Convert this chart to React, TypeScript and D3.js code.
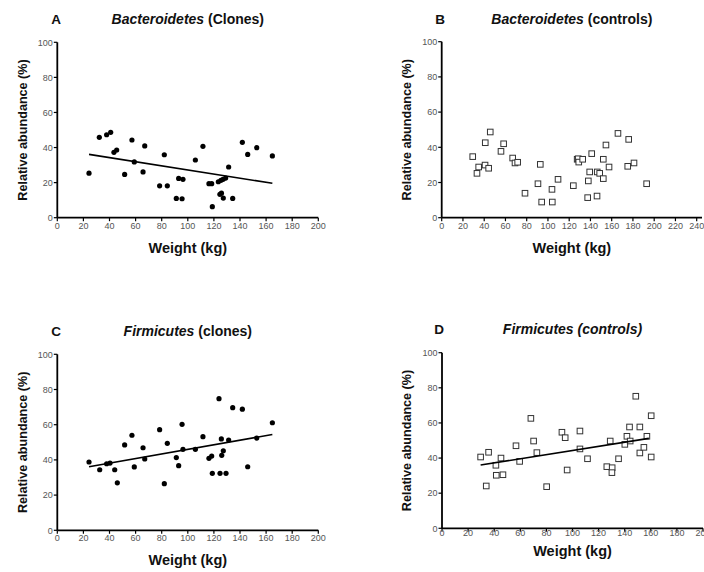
import React from "react";
import * as d3 from "d3";

// ---- Data ----
const aWeight = [24.3, 32.2, 37.8, 40.9, 43.4, 45.5, 51.6, 57.2, 59.0, 65.7, 67.0, 78.4, 82.0, 84.3, 91.2, 93.0, 95.6, 96.3, 105.8, 111.6, 116.2, 118.3, 118.8, 123.4, 125.4, 127.0, 129.0, 124.6, 125.8, 127.2, 131.3, 134.4, 141.8, 145.9, 152.8, 164.8];
const aBacteroidetes = [25.4, 45.8, 47.3, 48.7, 37.3, 38.6, 24.7, 44.3, 31.8, 26.1, 40.9, 18.2, 35.9, 18.2, 11.0, 22.4, 10.8, 21.9, 32.9, 40.7, 19.4, 19.4, 6.3, 20.5, 21.3, 21.9, 22.6, 13.3, 14.0, 11.2, 28.9, 11.0, 43.0, 36.1, 39.9, 35.2];
const aFit = [[24.3, 36.1], [164.8, 19.6]];

const bWeight = [29.2, 33.2, 34.8, 40.8, 41.0, 44.2, 45.7, 55.8, 58.3, 66.8, 69.0, 71.5, 78.4, 90.6, 92.8, 94.1, 103.8, 104.1, 109.5, 123.9, 127.5, 128.5, 129.0, 132.7, 137.4, 138.0, 139.3, 141.2, 146.2, 146.4, 148.7, 152.1, 152.1, 154.6, 157.5, 165.9, 175.1, 176.0, 181.0, 192.9];
const bBacteroidetes = [34.7, 25.2, 28.8, 29.9, 42.6, 28.1, 48.7, 37.7, 42.0, 33.9, 31.1, 31.5, 13.9, 19.3, 30.3, 8.9, 16.1, 8.9, 21.8, 18.2, 33.2, 33.5, 31.6, 33.2, 11.4, 20.9, 26.0, 36.4, 12.3, 26.0, 25.2, 33.2, 22.2, 41.3, 28.8, 47.9, 29.2, 44.5, 31.1, 19.3];

const cWeight = [24.3, 32.5, 37.8, 40.4, 44.0, 46.0, 51.6, 57.2, 59.0, 65.7, 67.0, 78.4, 82.0, 84.3, 91.2, 93.0, 95.6, 96.3, 105.8, 111.6, 116.2, 118.3, 118.8, 123.9, 124.7, 125.7, 126.0, 127.2, 129.3, 131.3, 134.4, 141.8, 145.9, 152.8, 164.8];
const cFirmicutes = [38.8, 34.4, 37.8, 38.2, 34.4, 27.0, 48.5, 54.0, 36.0, 46.9, 40.5, 57.2, 26.5, 49.4, 41.3, 36.7, 60.2, 46.0, 46.0, 53.2, 40.9, 42.2, 32.4, 74.8, 32.4, 51.9, 42.6, 45.2, 32.4, 51.3, 69.7, 68.8, 36.1, 52.4, 61.1];
const cFit = [[24.3, 36.1], [164.8, 54.4]];

const dWeight = [29.6, 33.9, 35.7, 41.3, 41.6, 45.2, 46.7, 56.7, 59.5, 68.1, 70.2, 72.7, 80.2, 91.9, 94.4, 95.9, 105.7, 105.7, 111.5, 126.3, 128.9, 130.4, 130.2, 135.3, 140.1, 141.7, 143.7, 144.2, 148.5, 151.6, 151.6, 154.7, 157.0, 160.3, 160.3];
const dFirmicutes = [40.6, 24.1, 43.3, 35.9, 30.2, 40.0, 30.5, 47.0, 38.1, 62.6, 49.7, 43.1, 23.7, 54.7, 51.6, 33.2, 55.4, 45.2, 39.6, 35.1, 49.7, 34.5, 31.7, 39.6, 47.8, 52.4, 57.7, 49.7, 75.2, 57.7, 42.9, 46.1, 52.4, 64.1, 40.6];
const dFit = [[29.6, 36.0], [158.5, 51.2]];

const yTicks = [0, 20, 40, 60, 80, 100];
const xTicks200 = [0, 20, 40, 60, 80, 100, 120, 140, 160, 180, 200];
const xTicks240 = [0, 20, 40, 60, 80, 100, 120, 140, 160, 180, 200, 220, 240];

const FONT = "'Liberation Sans', Arial, Helvetica, sans-serif";

type PanelProps = {
  letter: string;
  italic: string;
  rest: string;
  allItalic?: boolean;
  left: number; right: number; top: number; bottom: number;
  xMax: number;
  xTicks: number[];
  xs: number[]; ys: number[];
  fit?: number[][];
  square?: boolean;
  yTitleX: number;
  xLabelDy: number;
  xTitleDy: number;
  letterX: number;
  titleY: number;
};

function Panel(p: PanelProps) {
  const x = d3.scaleLinear().domain([0, p.xMax]).range([p.left, p.right]);
  const y = d3.scaleLinear().domain([0, 100]).range([p.bottom, p.top]);
  const cx = (p.left + p.right) / 2;
  const cy = (p.top + p.bottom) / 2;
  const line = d3.line<number[]>().x(d => x(d[0])).y(d => y(d[1]));
  return (
    <g fontFamily={FONT}>
      <text x={p.letterX} y={p.titleY} fontSize={13.5} fontWeight="bold" textAnchor="middle" fill="#111">{p.letter}</text>
      <text x={cx} y={p.titleY} fontSize={14} fontWeight="bold" textAnchor="middle" fill="#111" fontStyle={p.allItalic ? "italic" : "normal"}>
        <tspan fontStyle="italic">{p.italic}</tspan>{p.rest}
      </text>
      {/* axes */}
      <line x1={p.left} x2={p.left} y1={p.top} y2={p.bottom} stroke="#000" strokeWidth={1.8} />
      <line x1={p.left} x2={p.right} y1={p.bottom} y2={p.bottom} stroke="#000" strokeWidth={1.8} />
      {yTicks.map(t => (
        <g key={"y" + t}>
          <line x1={p.left - 3.5} x2={p.left} y1={y(t)} y2={y(t)} stroke="#000" strokeWidth={1.2} />
          <text x={p.left - 4.5} y={y(t) + 3.2} fontSize={9} textAnchor="end" fill="#555">{t}</text>
        </g>
      ))}
      {p.xTicks.map(t => (
        <g key={"x" + t}>
          <line x1={x(t)} x2={x(t)} y1={p.bottom} y2={p.bottom + 3.5} stroke="#000" strokeWidth={1.2} />
          <text x={x(t)} y={p.bottom + p.xLabelDy} fontSize={9} textAnchor="middle" fill="#555">{t}</text>
        </g>
      ))}
      <text x={cx} y={p.bottom + p.xTitleDy} fontSize={14.5} fontWeight="bold" textAnchor="middle" fill="#111">Weight (kg)</text>
      <text transform={`translate(${p.yTitleX},${cy}) rotate(-90)`} fontSize={12.6} fontWeight="bold" textAnchor="middle" fill="#111">Relative abundance (%)</text>
      {/* points */}
      {p.xs.map((v, i) =>
        p.square ? (
          <rect key={i} x={x(v) - 2.8} y={y(p.ys[i]) - 2.8} width={5.6} height={5.6} fill="#fff" stroke="#333" strokeWidth={1} />
        ) : (
          <circle key={i} cx={x(v)} cy={y(p.ys[i])} r={2.6} fill="#000" />
        )
      )}
      {p.fit && <path d={line(p.fit) || ""} fill="none" stroke="#000" strokeWidth={1.6} />}
    </g>
  );
}

export default function App() {
  return (
    <svg width={704} height={572} style={{ position: "absolute", left: 0, top: 0, background: "#fff" }}>
      <rect width={704} height={572} fill="#fff" />
      <Panel letter="A" italic="Bacteroidetes" rest=" (Clones)" left={57.3} right={318.3} top={42.3} bottom={217.7}
        xMax={200} xTicks={xTicks200} xs={aWeight} ys={aBacteroidetes} fit={aFit}
        yTitleX={27} xLabelDy={11} xTitleDy={35} letterX={56} titleY={24} />
      <Panel letter="B" italic="Bacteroidetes" rest=" (controls)" left={441.7} right={702} top={41.7} bottom={217.7}
        xMax={245} xTicks={xTicks240} xs={bWeight} ys={bBacteroidetes} square
        yTitleX={411} xLabelDy={11} xTitleDy={35} letterX={440} titleY={24} />
      <Panel letter="C" italic="Firmicutes" rest=" (clones)" left={57.3} right={318.3} top={354.3} bottom={530.3}
        xMax={200} xTicks={xTicks200} xs={cWeight} ys={cFirmicutes} fit={cFit}
        yTitleX={27} xLabelDy={11} xTitleDy={35} letterX={56} titleY={336} />
      <Panel letter="D" italic="Firmicutes" rest=" (controls)" allItalic left={442} right={703} top={352.7} bottom={528.3}
        xMax={200} xTicks={xTicks200} xs={dWeight} ys={dFirmicutes} fit={dFit} square
        yTitleX={411} xLabelDy={8} xTitleDy={28} letterX={439} titleY={334} />
    </svg>
  );
}
